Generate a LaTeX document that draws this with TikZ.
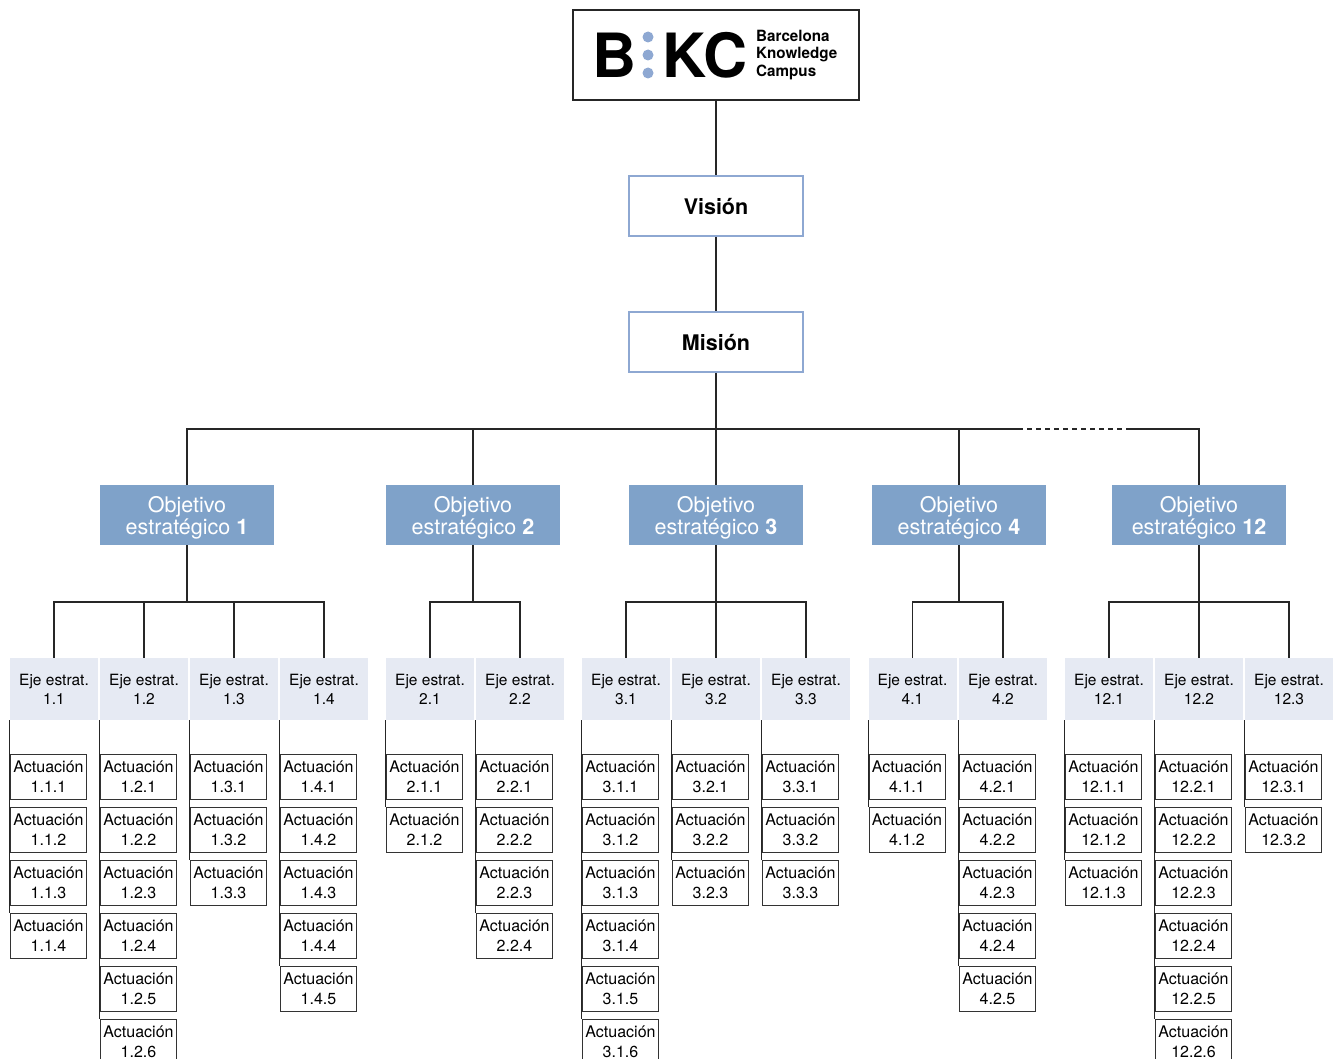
\documentclass[tikz,border=0pt]{standalone}
\usepackage{fontspec}
\setmainfont{TeX Gyre Heros}
\definecolor{objblue}{HTML}{7FA2C9}
\definecolor{ejegray}{HTML}{E6EAF3}
\definecolor{visblue}{HTML}{8EA8D2}
\tikzset{
  conn/.style={line width=1.2pt, draw=black!85},
  vision/.style={draw=visblue, line width=1.6pt, fill=white, minimum width=174pt, minimum height=60pt, text depth=0pt, font=\fontsize{21.5}{24}\selectfont\bfseries},
  objective/.style={fill=objblue, text=white, minimum width=174pt, minimum height=60pt, inner sep=0pt, text depth=-2pt, align=center, font=\fontsize{21.5}{22}\selectfont},
  eje/.style={fill=ejegray, minimum width=88pt, minimum height=62pt, inner sep=0pt, align=center, font=\fontsize{15.5}{19}\selectfont},
  actuacion/.style={draw=black!80, line width=1pt, fill=white, minimum width=76pt, minimum height=45pt, inner sep=0pt, align=center, font=\fontsize{16}{20}\selectfont},
}
\begin{document}
\begin{tikzpicture}[x=1pt, y=-1pt]
\useasboundingbox (0,0) rectangle (1340,1059);
% logo
\node[draw=black!85, line width=1.3pt, minimum width=286pt, minimum height=90pt] (logo) at (716,55){};
\node[inner sep=0pt, font=\fontsize{61}{61}\selectfont\bfseries] (logob) at (614.5,55){B};
\node[circle, fill=visblue, inner sep=0pt, minimum size=11pt] (dot1) at (648,37){};
\node[circle, fill=visblue, inner sep=0pt, minimum size=11pt] (dot2) at (648,55){};
\node[circle, fill=visblue, inner sep=0pt, minimum size=11pt] (dot3) at (648,73){};
\node[inner sep=0pt, font=\fontsize{61}{61}\selectfont\bfseries] (logokc) at (705,55){KC};
\node[anchor=west, inner sep=0pt, align=left, font=\fontsize{15.5}{17.5}\selectfont\bfseries] (logoname) at (756,55)
  {\scalebox{0.98}[1]{Barcelona}\\\scalebox{0.98}[1]{Knowledge}\\\scalebox{0.98}[1]{Campus}};

\node[vision] (vis) at (716,206){Visión};
\node[vision] (mis) at (716,342){Misión};
\draw[conn] (logo) -- (vis);
\draw[conn] (vis) -- (mis);

\node[objective] (o1) at (187,515){Objetivo\\estratégico \textbf{1}};
\node[objective] (o2) at (473,515){Objetivo\\estratégico \textbf{2}};
\node[objective] (o3) at (716,515){Objetivo\\estratégico \textbf{3}};
\node[objective] (o4) at (959,515){Objetivo\\estratégico \textbf{4}};
\node[objective] (o12) at (1199,515){Objetivo\\estratégico \textbf{12}};

\coordinate (m) at (716,429);
\coordinate (d1) at (1018,429);
\coordinate (d2) at (1130,429);
\draw[conn] (mis) -- (o3);
\draw[conn] (o1) |- (m) -| (o4);
\draw[conn] (o2) -- (o2 |- m);
\draw[conn] (o4 |- m) -- (d1);
\draw[conn, dash pattern=on 5pt off 4pt] (d1) -- (d2);
\draw[conn] (d2) -| (o12);

% ejes and actuaciones
\foreach \o/\s/\x/\n in {1/1/54/4, 1/2/144/6, 1/3/234/3, 1/4/324/5, 2/1/430/2, 2/2/520/4,
  3/1/626/6, 3/2/716/3, 3/3/806/3, 4/1/912.5/2, 4/2/1003/5, 12/1/1109/3, 12/2/1199/6, 12/3/1289/2}{
  \node[eje] (e\o-\s) at (\x,689){Eje estrat.\\\o.\s};
  \foreach \k in {1,...,\n}
    \node[actuacion] (a\o-\s-\k) at (\x-5.5,776.5+53*\k-53){Actuación\\\o.\s.\k};
  \draw[conn, line width=1pt] (e\o-\s.south west) -- (e\o-\s.south west |- a\o-\s-\n.north);
}

\coordinate (j1) at (187,602);
\coordinate (j2) at (473,602);
\coordinate (j3) at (716,602);
\coordinate (j4) at (959,602);
\coordinate (j12) at (1199,602);
\draw[conn] (o1) -- (j1);
\draw[conn] (e1-1) |- (j1) -| (e1-4);
\draw[conn] (e1-2) -- (e1-2 |- j1);
\draw[conn] (e1-3) -- (e1-3 |- j1);
\draw[conn] (o2) -- (j2);
\draw[conn] (e2-1) |- (j2) -| (e2-2);
\draw[conn] (o3) -- (e3-2);
\draw[conn] (e3-1) |- (j3) -| (e3-3);
\draw[conn] (o4) -- (j4);
\draw[conn] (e4-1) |- (j4) -| (e4-2);
\draw[conn] (o12) -- (e12-2);
\draw[conn] (e12-1) |- (j12) -| (e12-3);
\end{tikzpicture}
\end{document}
